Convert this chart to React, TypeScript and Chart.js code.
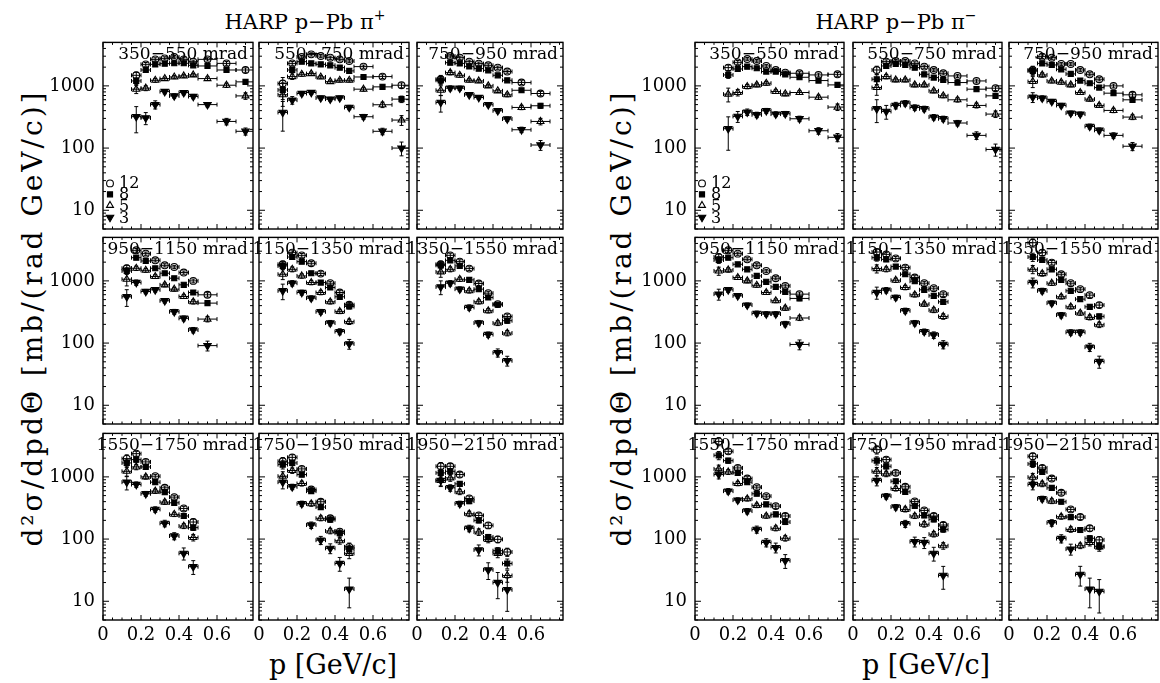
import React, { useEffect, useRef } from "react";
import { Chart, registerables } from "chart.js";

Chart.register(...registerables);

// ---------------- data ----------------
const BEAMS = ["12", "8", "5", "3"];
const X_TICKS = [0, 0.2, 0.4, 0.6];
const Y_TICKS = [10, 100, 1000];
const Y_MIN = 5;
const Y_MAX = 5000;

const BINS_350 = [0.15, 0.2, 0.25, 0.3, 0.35, 0.4, 0.45, 0.5, 0.6, 0.7, 0.8];
const BINS_550 = [0.1, 0.15, 0.2, 0.25, 0.3, 0.35, 0.4, 0.45, 0.5, 0.6, 0.7, 0.8];
const BINS_750 = [0.1, 0.15, 0.2, 0.25, 0.3, 0.35, 0.4, 0.45, 0.5, 0.6, 0.7];
const BINS_950 = [0.1, 0.15, 0.2, 0.25, 0.3, 0.35, 0.4, 0.45, 0.5, 0.6];
const BINS_1150 = [0.1, 0.15, 0.2, 0.25, 0.3, 0.35, 0.4, 0.45, 0.5];

const ANGLES = [
  "350−550 mrad", "550−750 mrad", "750−950 mrad",
  "950−1150 mrad", "1150−1350 mrad", "1350−1550 mrad",
  "1550−1750 mrad", "1750−1950 mrad", "1950−2150 mrad",
];
const ANGLE_BINS = [BINS_350, BINS_550, BINS_750, BINS_950, BINS_1150, BINS_1150, BINS_1150, BINS_1150, BINS_1150];

// pi+ : rows = beams 12, 8, 5, 3 GeV/c ; values in mb/(rad GeV/c)
const PIP_350 = [
  [1480, 2220, 2670, 2770, 2910, 2670, 2450, 2670, 2300, 1800],
  [1200, 1800, 2220, 2280, 2310, 2310, 2140, 2090, 1800, 1160],
  [885, 920, 1230, 1310, 1390, 1445, 1500, 1310, 1025, 690],
  [320, 305, 500, 810, 690, 780, 675, 500, 268, 186],
];
const PIP_550 = [
  [1090, 2300, 2910, 3210, 3020, 2840, 2670, 2510, 2040, 1410, 1025],
  [860, 1800, 2450, 2300, 2220, 2140, 1965, 1740, 1390, 964, 612],
  [720, 1410, 1535, 1575, 1390, 1170, 1230, 1230, 885, 497, 282],
  [374, 590, 754, 782, 640, 612, 640, 450, 319, 186, 100],
];
const PIP_750 = [
  [1280, 3020, 2840, 2450, 2280, 2140, 1965, 1700, 1130, 754],
  [1230, 2360, 2300, 2060, 1895, 1780, 1480, 1230, 850, 479],
  [850, 1634, 1480, 1230, 1200, 1000, 832, 718, 450, 268],
  [541, 918, 918, 718, 650, 497, 398, 293, 197, 112],
];
const PIP_950 = [
  [1595, 3100, 2740, 2140, 1780, 1675, 1360, 1000, 597],
  [1445, 2360, 2090, 1595, 1327, 1103, 863, 650, 439],
  [1063, 1595, 1480, 1173, 863, 736, 561, 461, 243],
  [555, 940, 675, 718, 479, 319, 250, 162, 91],
];
const PIP_1150 = [
  [1848, 2840, 2575, 1920, 1310, 918, 650, 413],
  [1740, 2420, 2040, 1327, 940, 782, 555, 388],
  [1278, 1535, 1200, 940, 650, 461, 323, 221],
  [692, 918, 650, 528, 319, 210, 153, 97],
];
const PIP_1350 = [
  [1848, 2575, 2040, 1575, 906, 635, 423, 268],
  [1780, 2140, 1740, 1037, 736, 541, 413, 229],
  [1393, 1535, 1063, 692, 461, 331, 210, 145],
  [800, 918, 736, 374, 210, 137, 70, 52],
];
const PIP_1550 = [
  [1965, 2360, 1740, 1025, 667, 473, 311, 188],
  [1675, 1895, 1445, 822, 568, 383, 235, 153],
  [1230, 1445, 1000, 590, 393, 250, 162, 106],
  [822, 754, 535, 300, 179, 112, 59, 36],
];
const PIP_1750 = [
  [1780, 2060, 1343, 627, 398, 216, 132, 75],
  [1575, 1675, 1090, 590, 327, 205, 124, 69],
  [1025, 1263, 782, 370, 216, 135, 94, 59],
  [822, 692, 370, 168, 96, 71, 40.5, 15.7],
];
const PIP_1950 = [
  [1480, 1480, 1090, 450, 240, 166, 99, 62],
  [1160, 1230, 772, 408, 200, 108, 65, 40.5],
  [873, 964, 575, 255, 130, 99, 59, 25.9],
  [873, 667, 370, 149, 67, 32, 20, 15.3],
];

// pi- values
const PIM_350 = [
  [1965, 2390, 2700, 2510, 2090, 1800, 1634, 1595, 1500, 1535],
  [1500, 1870, 2040, 1920, 1700, 1700, 1535, 1375, 1217, 1037],
  [736, 782, 975, 1037, 1103, 811, 745, 782, 658, 456],
  [205, 323, 379, 343, 398, 352, 356, 296, 190, 149],
];
const PIM_550 = [
  [1800, 2450, 2510, 2510, 2300, 2040, 1800, 1595, 1445, 1200, 918],
  [1278, 2090, 2250, 2170, 1965, 1535, 1360, 1247, 1131, 885, 692],
  [940, 1410, 1247, 1247, 1037, 1037, 832, 692, 597, 485, 352],
  [428, 388, 485, 528, 450, 428, 315, 296, 253, 160, 95],
];
const PIM_750 = [
  [1800, 2950, 2840, 2250, 2250, 1800, 1535, 1278, 1000, 718],
  [1740, 2300, 2170, 1848, 1555, 1217, 1103, 940, 763, 597],
  [1173, 1500, 1200, 1145, 1037, 782, 612, 485, 403, 315],
  [658, 635, 561, 485, 365, 352, 223, 193, 160, 107],
];
const PIM_950 = [
  [2420, 3100, 2740, 2220, 1780, 1445, 1103, 832, 612],
  [2170, 2360, 1848, 1535, 1200, 964, 800, 667, 522],
  [1445, 1500, 1131, 1000, 850, 650, 479, 365, 253],
  [612, 718, 575, 408, 300, 293, 293, 203, 95],
];
const PIM_1150 = [
  [2910, 2670, 2300, 1634, 1131, 918, 763, 612],
  [2360, 2220, 1700, 1278, 988, 718, 575, 461],
  [1575, 1535, 1025, 782, 597, 423, 339, 268],
  [650, 710, 541, 331, 210, 153, 135, 95],
];
const PIM_1350 = [
  [4110, 2840, 1965, 1278, 918, 736, 590, 408],
  [2420, 2170, 1535, 1037, 692, 509, 383, 268],
  [1535, 1310, 918, 555, 383, 304, 259, 197],
  [940, 692, 439, 282, 149, 149, 86, 50.5],
];
const PIM_1550 = [
  [3720, 2575, 1393, 940, 684, 490, 339, 235],
  [2220, 1825, 1160, 822, 535, 361, 250, 188],
  [1343, 1200, 782, 444, 348, 235, 149, 103],
  [1090, 590, 423, 282, 143, 88, 73, 45],
];
const PIM_1750 = [
  [2740, 1895, 1160, 692, 403, 289, 235, 168],
  [1825, 1480, 850, 575, 343, 240, 208, 143],
  [1230, 1117, 650, 300, 235, 173, 120, 78],
  [873, 490, 327, 177, 91, 88, 59, 26],
];
const PIM_1950 = [
  [2140, 1393, 940, 555, 300, 226, 149, 97],
  [1615, 1200, 667, 398, 226, 140, 103, 77],
  [988, 772, 408, 229, 143, 78, 88, 75],
  [754, 444, 183, 102, 69, 27, 15.7, 14.4],
];

// relative errors in percent (rows = beams 12, 8, 5, 3)
const PIP_350_ERR = [
  [12, 7, 6, 6, 6, 6, 6, 6, 7, 8],
  [12, 7, 6, 6, 6, 6, 6, 6, 7, 9],
  [15, 9, 7, 6, 6, 6, 6, 7, 8, 12],
  [45, 22, 15, 8, 8, 8, 8, 8, 12, 13],
];
const PIP_550_ERR = [
  [25, 7, 6, 6, 6, 6, 6, 6, 6, 7, 9],
  [30, 7, 6, 6, 6, 6, 6, 6, 6, 8, 12],
  [35, 10, 7, 6, 6, 6, 6, 6, 7, 10, 18],
  [50, 14, 8, 7, 7, 7, 7, 8, 9, 12, 25],
];
const PIP_750_ERR = [
  [15, 7, 6, 6, 6, 6, 6, 6, 7, 8],
  [15, 7, 6, 6, 6, 6, 6, 6, 7, 9],
  [18, 8, 7, 6, 6, 6, 6, 7, 8, 12],
  [30, 9, 8, 7, 7, 7, 8, 8, 10, 18],
];
const PIP_950_ERR = [
  [12, 7, 6, 6, 6, 6, 6, 7, 8],
  [12, 7, 6, 6, 6, 6, 6, 7, 8],
  [22, 8, 7, 7, 7, 7, 7, 8, 10],
  [30, 10, 8, 8, 8, 9, 9, 10, 18],
];
const PIP_1150_ERR = [
  [12, 7, 7, 7, 7, 7, 7, 9],
  [12, 7, 7, 7, 7, 7, 8, 9],
  [18, 9, 8, 8, 8, 8, 8, 10],
  [28, 10, 9, 9, 9, 10, 11, 18],
];
const PIP_1350_ERR = [
  [12, 8, 7, 7, 7, 7, 7, 9],
  [12, 8, 7, 7, 7, 7, 7, 9],
  [18, 9, 8, 8, 8, 8, 9, 10],
  [25, 10, 9, 10, 10, 10, 15, 18],
];
const PIP_1550_ERR = [
  [15, 9, 8, 7, 7, 7, 8, 12],
  [15, 9, 8, 7, 7, 7, 8, 10],
  [18, 10, 8, 8, 8, 8, 9, 12],
  [25, 10, 9, 10, 12, 13, 22, 25],
];
const PIP_1750_ERR = [
  [15, 10, 8, 8, 8, 9, 10, 15],
  [15, 10, 8, 8, 8, 9, 10, 15],
  [18, 10, 9, 9, 9, 10, 12, 18],
  [22, 10, 10, 12, 15, 18, 25, 50],
];
const PIP_1950_ERR = [
  [15, 10, 9, 9, 9, 10, 12, 15],
  [15, 10, 9, 9, 9, 10, 12, 18],
  [18, 12, 10, 10, 12, 12, 15, 22],
  [20, 12, 10, 12, 20, 30, 45, 55],
];
const PIM_350_ERR = [
  [10, 7, 6, 6, 6, 6, 6, 6, 7, 7],
  [12, 7, 6, 6, 6, 6, 6, 6, 7, 7],
  [25, 12, 8, 7, 7, 7, 7, 7, 8, 12],
  [55, 20, 12, 10, 9, 9, 9, 10, 12, 15],
];
const PIM_550_ERR = [
  [15, 7, 6, 6, 6, 6, 6, 6, 6, 7, 8],
  [18, 7, 6, 6, 6, 6, 6, 6, 6, 7, 9],
  [25, 8, 7, 7, 7, 7, 7, 7, 8, 9, 12],
  [40, 25, 12, 10, 10, 10, 10, 10, 10, 14, 22],
];
const PIM_750_ERR = [
  [15, 7, 6, 6, 6, 6, 6, 6, 7, 8],
  [15, 7, 6, 6, 6, 6, 6, 6, 7, 8],
  [20, 8, 7, 7, 7, 7, 7, 7, 8, 9],
  [18, 9, 8, 8, 8, 8, 9, 9, 10, 15],
];
const PIM_950_ERR = [
  [12, 7, 6, 6, 6, 6, 6, 7, 8],
  [12, 7, 6, 6, 6, 6, 6, 7, 8],
  [15, 8, 7, 7, 7, 7, 7, 8, 9],
  [20, 9, 8, 8, 9, 9, 9, 10, 18],
];
const PIM_1150_ERR = [
  [12, 8, 7, 7, 7, 7, 7, 8],
  [12, 8, 7, 7, 7, 7, 8, 9],
  [15, 9, 8, 8, 8, 8, 9, 10],
  [22, 10, 9, 10, 10, 10, 12, 15],
];
const PIM_1350_ERR = [
  [15, 10, 8, 7, 7, 7, 8, 9],
  [15, 9, 8, 7, 7, 7, 8, 9],
  [15, 9, 8, 8, 8, 8, 9, 10],
  [18, 10, 9, 10, 10, 10, 15, 22],
];
const PIM_1550_ERR = [
  [15, 9, 8, 7, 7, 7, 8, 9],
  [15, 9, 8, 7, 7, 7, 8, 9],
  [15, 9, 8, 8, 8, 8, 9, 10],
  [15, 10, 9, 10, 13, 15, 18, 25],
];
const PIM_1750_ERR = [
  [15, 9, 8, 8, 8, 8, 9, 10],
  [15, 9, 8, 8, 8, 8, 9, 10],
  [15, 10, 9, 9, 9, 10, 10, 12],
  [18, 10, 10, 13, 18, 20, 25, 40],
];
const PIM_1950_ERR = [
  [12, 9, 8, 8, 8, 9, 10, 12],
  [12, 9, 8, 8, 8, 9, 10, 12],
  [15, 10, 9, 9, 10, 10, 12, 15],
  [18, 10, 12, 15, 20, 35, 50, 55],
];

const PIP_VALUES = [PIP_350, PIP_550, PIP_750, PIP_950, PIP_1150, PIP_1350, PIP_1550, PIP_1750, PIP_1950];
const PIP_ERRORS = [PIP_350_ERR, PIP_550_ERR, PIP_750_ERR, PIP_950_ERR, PIP_1150_ERR, PIP_1350_ERR, PIP_1550_ERR, PIP_1750_ERR, PIP_1950_ERR];
const PIM_VALUES = [PIM_350, PIM_550, PIM_750, PIM_950, PIM_1150, PIM_1350, PIM_1550, PIM_1750, PIM_1950];
const PIM_ERRORS = [PIM_350_ERR, PIM_550_ERR, PIM_750_ERR, PIM_950_ERR, PIM_1150_ERR, PIM_1350_ERR, PIM_1550_ERR, PIM_1750_ERR, PIM_1950_ERR];

// ---------------- layout / style ----------------
const GROUPS = [
  { sign: "+", values: PIP_VALUES, errors: PIP_ERRORS, colX: [103, 259, 417], colW: [150, 150, 146], titleX: 305, yTitleX: 33, xTitleX: 333 },
  { sign: "−", values: PIM_VALUES, errors: PIM_ERRORS, colX: [695, 853, 1009], colW: [149, 149, 149], titleX: 896, yTitleX: 622, xTitleX: 926 },
];
const ROW_Y = [41, 236, 432];
const ROW_H = 188;
const PX_PER_GEV = 190;
const PADL = 60, PADR = 8, PADT = 4, PADB = 30;
const SERIF = '"DejaVu Serif", serif';

const SERIES_STYLE = [
  { pointStyle: "circle", radius: 3.4, rotation: 0, filled: false },
  { pointStyle: "rect", radius: 3.6, rotation: 0, filled: true },
  { pointStyle: "triangle", radius: 4, rotation: 0, filled: false },
  { pointStyle: "triangle", radius: 4.3, rotation: 180, filled: true },
];

function drawMarker(ctx: CanvasRenderingContext2D, si: number, x: number, y: number) {
  const s = SERIES_STYLE[si];
  ctx.save();
  ctx.strokeStyle = "#000";
  ctx.fillStyle = "#000";
  ctx.lineWidth = 1.1;
  ctx.beginPath();
  if (s.pointStyle === "circle") {
    ctx.arc(x, y, s.radius, 0, Math.PI * 2);
  } else if (s.pointStyle === "rect") {
    const h = s.radius * Math.SQRT1_2;
    ctx.rect(x - h, y - h, 2 * h, 2 * h);
  } else {
    const r = s.radius;
    const sg = s.rotation ? -1 : 1;
    ctx.moveTo(x, y - sg * r);
    ctx.lineTo(x + r * 0.866, y + (sg * r) / 2);
    ctx.lineTo(x - r * 0.866, y + (sg * r) / 2);
    ctx.closePath();
  }
  if (s.filled) ctx.fill();
  ctx.stroke();
  ctx.restore();
}

type PanelProps = {
  values: number[][];
  errors: number[][];
  bins: number[];
  label: string;
  x: number;
  y: number;
  w: number;
  h: number;
  yLabels: boolean;
  xLabels: boolean;
  legend: boolean;
};

function Panel(props: PanelProps) {
  const ref = useRef<HTMLCanvasElement | null>(null);
  const cw = props.w + PADL + PADR;
  const ch = props.h + PADT + PADB;

  useEffect(() => {
    const canvas = ref.current;
    if (!canvas) return;
    const { values, errors, bins, label, yLabels, xLabels, legend, w } = props;

    const datasets = BEAMS.map((beam, si) => {
      const st = SERIES_STYLE[si];
      return {
        label: beam,
        data: values[si].map((v, i) => {
          const lo = bins[i];
          const hi = bins[i + 1];
          const e = errors[si][i] / 100;
          return { x: (lo + hi) / 2, y: v, xMin: lo, xMax: hi, yMin: v * (1 - e), yMax: v * (1 + e) };
        }),
        pointStyle: st.pointStyle as any,
        pointRadius: st.radius,
        pointRotation: st.rotation,
        pointBackgroundColor: st.filled ? "#000" : "rgba(0,0,0,0)",
        pointBorderColor: "#000",
        pointBorderWidth: 1.1,
        backgroundColor: st.filled ? "#000" : "rgba(0,0,0,0)",
        borderColor: "#000",
        showLine: false,
      };
    });

    const panelPlugin = {
      id: "panelDecor",
      beforeDatasetsDraw(chart: any) {
        const { ctx, chartArea: a, scales } = chart;
        const xs = scales.x;
        const ys = scales.y;
        const CAP = 2;
        ctx.save();
        ctx.beginPath();
        ctx.rect(a.left, a.top, a.right - a.left, a.bottom - a.top);
        ctx.clip();
        ctx.strokeStyle = "#000";
        ctx.lineWidth = 1;
        chart.data.datasets.forEach((ds: any) => {
          ds.data.forEach((d: any) => {
            const px = xs.getPixelForValue(d.x);
            const py = ys.getPixelForValue(d.y);
            const x0 = xs.getPixelForValue(d.xMin);
            const x1 = xs.getPixelForValue(d.xMax);
            const y0 = ys.getPixelForValue(d.yMin);
            const y1 = ys.getPixelForValue(d.yMax);
            ctx.beginPath();
            ctx.moveTo(x0, py);
            ctx.lineTo(x1, py);
            ctx.moveTo(px, y0);
            ctx.lineTo(px, y1);
            ctx.moveTo(x0, py - CAP);
            ctx.lineTo(x0, py + CAP);
            ctx.moveTo(x1, py - CAP);
            ctx.lineTo(x1, py + CAP);
            ctx.moveTo(px - CAP, y0);
            ctx.lineTo(px + CAP, y0);
            ctx.moveTo(px - CAP, y1);
            ctx.lineTo(px + CAP, y1);
            ctx.stroke();
          });
        });
        ctx.restore();
      },
      afterDraw(chart: any) {
        const { ctx, chartArea: a, scales } = chart;
        const xs = scales.x;
        const ys = scales.y;
        ctx.save();
        ctx.strokeStyle = "#000";
        ctx.fillStyle = "#000";
        ctx.lineWidth = 1.4;
        ctx.strokeRect(a.left, a.top, a.right - a.left, a.bottom - a.top);
        ctx.lineWidth = 1;
        ctx.beginPath();
        // x ticks (major every 0.2, minor every 0.05), inward, top and bottom
        const xmax = xs.max;
        for (let k = 0; k * 0.05 <= xmax + 1e-9; k++) {
          const v = k * 0.05;
          const px = xs.getPixelForValue(v);
          const len = k % 4 === 0 ? 5 : 2.5;
          ctx.moveTo(px, a.bottom);
          ctx.lineTo(px, a.bottom - len);
          ctx.moveTo(px, a.top);
          ctx.lineTo(px, a.top + len);
        }
        // y ticks (log), inward, left and right
        for (let dec = 1; dec <= 1000; dec *= 10) {
          for (let m = 1; m <= 9; m++) {
            const v = m * dec;
            if (v < Y_MIN || v > Y_MAX) continue;
            const py = ys.getPixelForValue(v);
            const len = m === 1 ? 6 : 3;
            ctx.moveTo(a.left, py);
            ctx.lineTo(a.left + len, py);
            ctx.moveTo(a.right, py);
            ctx.lineTo(a.right - len, py);
          }
        }
        ctx.stroke();

        // tick labels
        ctx.font = "18px " + SERIF;
        if (yLabels) {
          ctx.textAlign = "right";
          ctx.textBaseline = "middle";
          Y_TICKS.forEach((v) => ctx.fillText(String(v), a.left - 8, ys.getPixelForValue(v)));
        }
        if (xLabels) {
          ctx.textAlign = "center";
          ctx.textBaseline = "alphabetic";
          X_TICKS.forEach((v) => ctx.fillText(String(v), xs.getPixelForValue(v), a.bottom + 20));
        }

        // panel label
        ctx.font = "17px " + SERIF;
        ctx.textAlign = "right";
        ctx.textBaseline = "alphabetic";
        ctx.fillText(label, a.right - 5, a.top + 17);

        // legend
        if (legend) {
          const markerY = [141, 152, 163, 175];
          const textY = [146, 157, 169, 181];
          ctx.font = "16px " + SERIF;
          ctx.textAlign = "left";
          BEAMS.forEach((b, si) => {
            drawMarker(ctx, si, a.left + 7, a.top + markerY[si]);
            ctx.fillText(b, a.left + 16, a.top + textY[si]);
          });
        }
        ctx.restore();
      },
    };

    const chart = new Chart(canvas, {
      type: "scatter",
      data: { datasets: datasets as any },
      options: {
        animation: false,
        responsive: false,
        devicePixelRatio: 1,
        events: [],
        layout: { padding: { left: PADL, right: PADR, top: PADT, bottom: PADB } },
        plugins: { legend: { display: false }, tooltip: { enabled: false } },
        scales: {
          x: { type: "linear", min: 0, max: w / PX_PER_GEV, display: false },
          y: { type: "logarithmic", min: Y_MIN, max: Y_MAX, display: false },
        },
      },
      plugins: [panelPlugin],
    });
    return () => chart.destroy();
  }, []);

  return (
    <canvas
      ref={ref}
      width={cw}
      height={ch}
      style={{ position: "absolute", left: props.x - PADL, top: props.y - PADT, width: cw, height: ch }}
    />
  );
}

export default function App() {
  return (
    <div
      style={{
        position: "absolute",
        left: 0,
        top: 0,
        width: 1160,
        height: 683,
        overflow: "hidden",
        background: "#fff",
        color: "#000",
        fontFamily: SERIF,
      }}
    >
      {GROUPS.map((g, gi) => (
        <React.Fragment key={gi}>
          <div
            style={{
              position: "absolute",
              left: g.titleX - 200,
              top: 12,
              width: 400,
              textAlign: "center",
              fontSize: 21,
              lineHeight: "21px",
              whiteSpace: "nowrap",
            }}
          >
            HARP p−Pb π<sup style={{ fontSize: 14, lineHeight: 0, position: "relative", top: -1 }}>{g.sign}</sup>
          </div>
          <div
            style={{
              position: "absolute",
              left: g.yTitleX,
              top: 318,
              transform: "translate(-50%, -50%) rotate(-90deg)",
              fontSize: 28,
              lineHeight: "28px",
              letterSpacing: 3,
              whiteSpace: "nowrap",
            }}
          >
            d²σ/dpdΘ [mb/(rad GeV/c)]
          </div>
          <div
            style={{
              position: "absolute",
              left: g.xTitleX - 150,
              top: 651,
              width: 300,
              textAlign: "center",
              fontSize: 27,
              lineHeight: "27px",
              whiteSpace: "nowrap",
            }}
          >
            p [GeV/c]
          </div>
          {ANGLES.map((label, k) => {
            const r = Math.floor(k / 3);
            const c = k % 3;
            return (
              <Panel
                key={gi + "-" + k}
                values={g.values[k]}
                errors={g.errors[k]}
                bins={ANGLE_BINS[k]}
                label={label}
                x={g.colX[c]}
                y={ROW_Y[r]}
                w={g.colW[c]}
                h={ROW_H}
                yLabels={c === 0}
                xLabels={r === 2}
                legend={k === 0}
              />
            );
          })}
        </React.Fragment>
      ))}
    </div>
  );
}
